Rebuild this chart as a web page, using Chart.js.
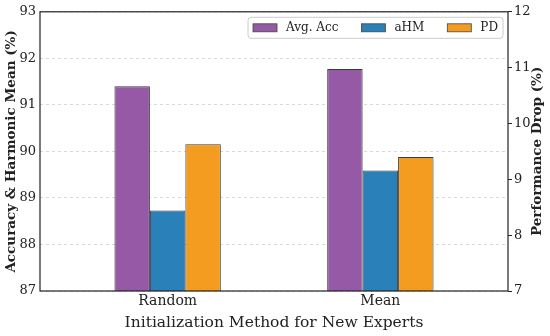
<!DOCTYPE html>
<html>
<head>
<meta charset="utf-8">
<script src="https://cdn.jsdelivr.net/npm/chart.js@4"></script>
<style>
  html, body { margin: 0; padding: 0; background: #fff; }
  #wrap { width: 550px; height: 336px; }
</style>
</head>
<body>
<div id="wrap"><canvas id="chart" width="550" height="336"></canvas></div>
<script>
// ===== DATA =====
const categories = ["Random", "Mean"];
const avgAcc = [91.40, 91.77];
const aHM = [88.73, 89.59];
const perfDrop = [9.63, 9.40];
const seriesNames = ["Avg. Acc", "aHM", "PD"];
const leftTicks = [87, 88, 89, 90, 91, 92, 93];
const rightTicks = [7, 8, 9, 10, 11, 12];
const rightTitle = "Performance Drop (%)";

const serif = "'DejaVu Serif', serif";
const ink = "#222";

// map a series onto category index positions
const toPoints = arr => arr.map((v, i) => ({ x: i, y: v }));

// ===== PLUGINS =====
const framePlugin = {
    id: "frame",
    afterDraw(chart) {
        const a = chart.chartArea;
        const ctx = chart.ctx;
        ctx.save();
        ctx.strokeStyle = ink;
        ctx.lineWidth = 1.2;
        ctx.strokeRect(a.left, a.top, a.right - a.left, a.bottom - a.top);

        // right axis title reads bottom-to-top, like matplotlib's twinx label
        ctx.translate(537.5, (a.top + a.bottom) / 2);
        ctx.rotate(-Math.PI / 2);
        ctx.font = "bold 13.5px " + serif;
        ctx.fillStyle = ink;
        ctx.textAlign = "center";
        ctx.textBaseline = "middle";
        ctx.fillText(rightTitle, 0, 0);
        ctx.restore();
    }
};

const insideLegend = {
    id: "insideLegend",
    afterDatasetsDraw(chart) {
        const ctx = chart.ctx;
        const a = chart.chartArea;
        ctx.save();
        ctx.font = "12px " + serif;
        const sw = 24, sh = 8, gapText = 9, gapItem = 23, padX = 5;
        const items = chart.data.datasets.map(ds => ({
            label: ds.label, color: ds.backgroundColor, w: ctx.measureText(ds.label).width
        }));
        let total = padX * 2;
        items.forEach((it, i) => {
            total += sw + gapText + it.w + (i < items.length - 1 ? gapItem : 0);
        });
        const boxR = a.right - 5;
        const boxL = boxR - total;
        const boxT = a.top + 5.5;
        const boxH = 21;

        ctx.fillStyle = "rgba(255,255,255,0.85)";
        ctx.strokeStyle = "#cccccc";
        ctx.lineWidth = 1;
        ctx.beginPath();
        ctx.roundRect(boxL, boxT, total, boxH, 3);
        ctx.fill();
        ctx.stroke();

        let x = boxL + padX;
        const cy = boxT + boxH / 2;
        items.forEach(it => {
            ctx.fillStyle = it.color;
            ctx.fillRect(x, cy - sh / 2, sw, sh);
            ctx.strokeStyle = "#444";
            ctx.lineWidth = 0.8;
            ctx.strokeRect(x, cy - sh / 2, sw, sh);
            x += sw + gapText;
            ctx.fillStyle = ink;
            ctx.textBaseline = "middle";
            ctx.fillText(it.label, x, cy);
            x += it.w + gapItem;
        });
        ctx.restore();
    }
};

// ===== CHART =====
new Chart(document.getElementById("chart"), {
    type: "bar",
    data: {
        datasets: [
            { label: seriesNames[0], data: toPoints(avgAcc), yAxisID: "y",
              backgroundColor: "#9559a6", borderColor: "#3a3a3a", borderWidth: 1 },
            { label: seriesNames[1], data: toPoints(aHM), yAxisID: "y",
              backgroundColor: "#2a80b9", borderColor: "#3a3a3a", borderWidth: 1 },
            { label: seriesNames[2], data: toPoints(perfDrop), yAxisID: "y2",
              backgroundColor: "#f39c1f", borderColor: "#3a3a3a", borderWidth: 1 }
        ]
    },
    options: {
        responsive: false,
        animation: false,
        layout: { padding: { top: 8, left: 0, right: 0, bottom: 0 } },
        datasets: { bar: { categoryPercentage: 0.5, barPercentage: 1 } },
        plugins: { legend: { display: false }, tooltip: { enabled: false } },
        scales: {
            x: {
                type: "linear",
                min: -0.6,
                max: 1.6,
                offset: false,
                afterBuildTicks: s => { s.ticks = categories.map((c, i) => ({ value: i })); },
                afterFit: s => { s.height = 45; },
                grid: { display: false, drawTicks: false },
                border: { display: false },
                ticks: {
                    callback: v => categories[v],
                    color: ink, padding: 2, maxRotation: 0,
                    font: { family: serif, size: 14 }
                },
                title: {
                    display: true,
                    text: "Initialization Method for New Experts",
                    color: ink,
                    font: { family: serif, size: 15.5 },
                    padding: { top: 0, bottom: 4 }
                }
            },
            y: {
                position: "left",
                min: 87,
                max: 93,
                afterBuildTicks: s => { s.ticks = leftTicks.map(v => ({ value: v })); },
                afterFit: s => { s.width = 40; },
                grid: { color: "#d0d0d0", lineWidth: 0.8, drawTicks: false },
                border: { display: false, dash: [3, 3] },
                ticks: { color: ink, padding: 4, font: { family: serif, size: 13 } },
                title: {
                    display: true,
                    text: "Accuracy & Harmonic Mean (%)",
                    color: ink,
                    font: { family: serif, size: 13.5, weight: "bold" },
                    padding: { top: 3, bottom: 0 }
                }
            },
            y2: {
                position: "right",
                min: 7,
                max: 12,
                afterBuildTicks: s => { s.ticks = rightTicks.map(v => ({ value: v })); },
                afterFit: s => { s.width = 42; },
                grid: { drawOnChartArea: false, drawTicks: true, tickLength: 4, tickColor: ink, tickWidth: 1 },
                border: { display: false },
                ticks: { color: ink, padding: 2, font: { family: serif, size: 13 } },
                title: { display: false }
            }
        }
    },
    plugins: [framePlugin, insideLegend]
});
</script>
</body>
</html>
